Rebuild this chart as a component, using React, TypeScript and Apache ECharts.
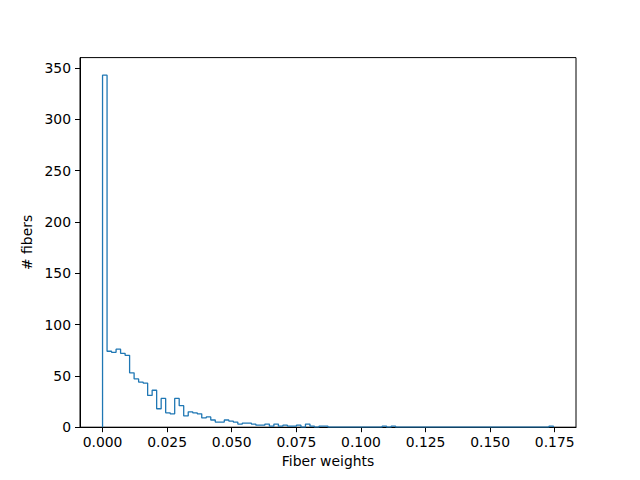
import React, { useEffect, useRef } from "react";
import * as echarts from "echarts";

// Histogram of fiber weights: 100 equal bins between BIN_MIN and BIN_MAX
const BIN_MIN = 0;
const BIN_MAX = 0.1745;
const counts: number[] = [
  343, 74, 73, 76, 72, 70, 53, 47, 44, 43,
  31, 36, 18, 28, 14, 13, 28, 21, 11, 15,
  14, 13, 9, 10, 7, 5, 5, 7, 6, 5,
  3, 4, 4, 3, 2, 2, 3, 1, 3, 1,
  2, 1, 1, 2, 0, 3, 1, 0, 1, 1,
  0, 0, 0, 0, 0, 0, 0, 0, 0, 0,
  0, 0, 1, 0, 1, 0, 0, 0, 0, 0,
  0, 0, 0, 0, 0, 0, 0, 0, 0, 0,
  0, 0, 0, 0, 0, 0, 0, 0, 0, 0,
  0, 0, 0, 0, 0, 0, 0, 0, 0, 1,
];
const xTicks = [0, 0.025, 0.05, 0.075, 0.1, 0.125, 0.15, 0.175];
const yTicks = [0, 50, 100, 150, 200, 250, 300, 350];

export default function App() {
  const ref = useRef<HTMLDivElement>(null);
  useEffect(() => {
    if (!ref.current) return;
    const chart = echarts.init(ref.current, undefined, { renderer: "svg" });
    const n = counts.length;
    const w = (BIN_MAX - BIN_MIN) / n;
    const pts: number[][] = [[BIN_MIN, 0]];
    counts.forEach((c, i) => {
      pts.push([BIN_MIN + i * w, c]);
      pts.push([BIN_MIN + (i + 1) * w, c]);
    });
    pts.push([BIN_MAX, 0]);
    const span = BIN_MAX - BIN_MIN;
    const ymax = Math.max(...counts) * 1.05;
    const font = "DejaVu Sans";
    chart.setOption({
      animation: false,
      grid: {
        left: 80,
        right: 64,
        top: 57.6,
        bottom: 52.8,
        show: true,
        borderColor: "#000",
        borderWidth: 1,
        backgroundColor: "transparent",
      },
      xAxis: {
        type: "value",
        min: BIN_MIN - span * 0.05,
        max: BIN_MAX + span * 0.05,
        name: "Fiber weights",
        nameLocation: "middle",
        nameGap: 27,
        nameTextStyle: { fontFamily: font, fontSize: 13.9, color: "#000" },
        splitLine: { show: false },
        axisLine: { show: true, onZero: false, lineStyle: { color: "#000", width: 1 } },
        axisTick: { show: true, length: 5, customValues: xTicks, lineStyle: { color: "#000", width: 1 } },
        axisLabel: {
          customValues: xTicks,
          formatter: (v: number) => v.toFixed(3),
          fontFamily: font,
          fontSize: 13.9,
          color: "#000",
          margin: 8,
        },
      },
      yAxis: {
        type: "value",
        min: 0,
        max: ymax,
        name: "# fibers",
        nameLocation: "middle",
        nameRotate: 90,
        nameGap: 45,
        nameTextStyle: { fontFamily: font, fontSize: 13.9, color: "#000" },
        splitLine: { show: false },
        axisLine: { show: true, onZero: false, lineStyle: { color: "#000", width: 1 } },
        axisTick: { show: true, length: 5, customValues: yTicks, lineStyle: { color: "#000", width: 1 } },
        axisLabel: {
          customValues: yTicks,
          fontFamily: font,
          fontSize: 13.9,
          color: "#000",
          margin: 9,
        },
      },
      series: [
        {
          type: "line",
          data: pts,
          symbol: "none",
          silent: true,
          clip: true,
          lineStyle: { color: "#1f77b4", width: 1.3 },
        },
      ],
    });
    return () => chart.dispose();
  }, []);
  return <div ref={ref} style={{ width: 640, height: 480, position: "absolute", left: 0, top: 0 }} />;
}
